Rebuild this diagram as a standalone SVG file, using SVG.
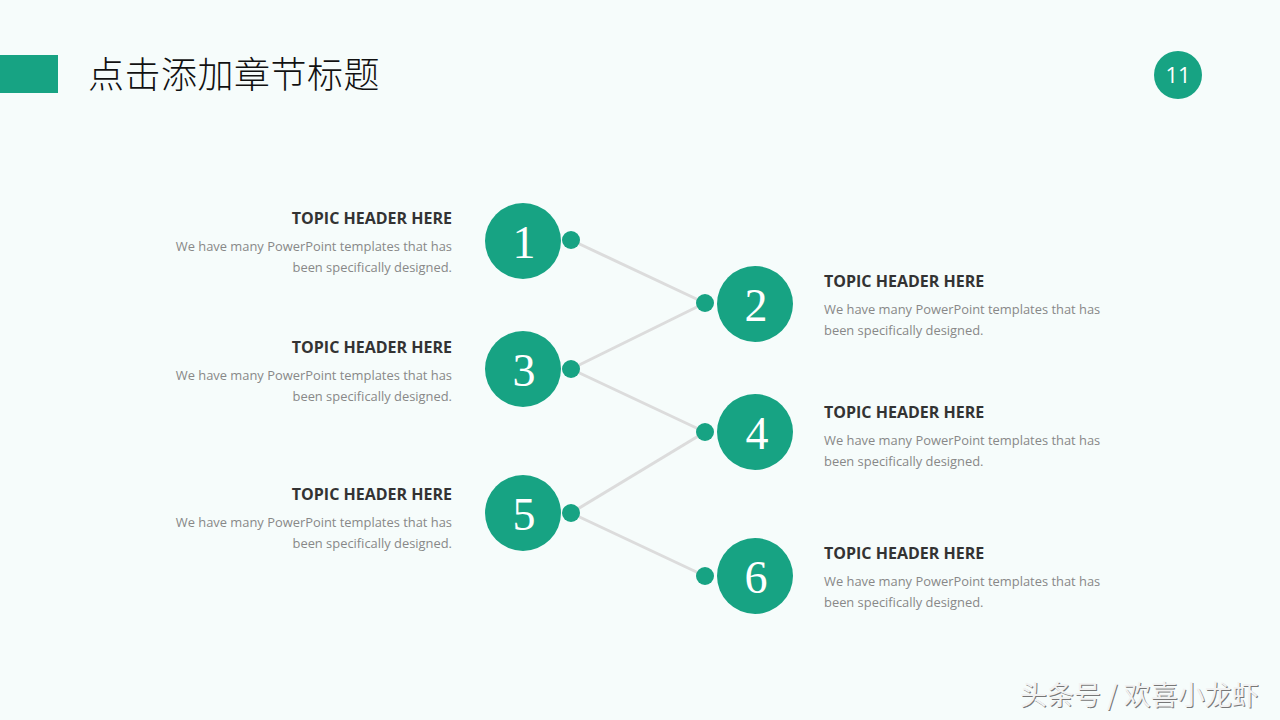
<svg xmlns="http://www.w3.org/2000/svg" width="1280" height="720" viewBox="0 0 1280 720">
<style>
.big{fill:#17a383}
.dot{fill:#17a383}
.num{fill:#fff;font-family:"Liberation Serif","DejaVu Serif",serif;font-size:46px;text-anchor:middle}
.hd{fill:#333;font-family:"Open Sans","Liberation Sans",sans-serif;font-weight:bold;font-size:16px}
.bd{fill:#888;font-family:"Open Sans","Liberation Sans",sans-serif;font-size:12.9px}
.l{text-anchor:end}
.conn line{stroke:#dcdcdc;stroke-width:3}
.wm{font-family:"Noto Sans CJK SC",sans-serif;font-size:27px}
</style>
<rect width="1280" height="720" fill="#f6fcfb"/>
<g id="title">
<rect x="0" y="55" width="58" height="38" fill="#17a383"/>
<text x="88" y="88" font-family="'Noto Sans CJK SC',sans-serif" font-weight="300" font-size="36" letter-spacing="0.5" fill="#111">点击添加章节标题</text>
</g>
<g id="page">
<circle cx="1178" cy="75" r="24" fill="#17a383"/>
<text x="1178" y="83" text-anchor="middle" font-family="'Open Sans','Liberation Sans',sans-serif" font-size="22" fill="#fff">11</text>
</g>
<g id="connectors" class="conn">
<line x1="571" y1="240" x2="705" y2="303"/>
<line x1="705" y1="303" x2="571" y2="369"/>
<line x1="571" y1="369" x2="705" y2="432"/>
<line x1="705" y1="432" x2="571" y2="513"/>
<line x1="571" y1="513" x2="705" y2="576"/>
</g>
<g id="node1">
<circle class="big" cx="523" cy="241" r="38"/>
<circle class="dot" cx="571" cy="240" r="9"/>
<text class="num" x="524" y="258">1</text>
<text class="hd l" x="452" y="224">TOPIC HEADER HERE</text>
<text class="bd l" x="452" y="251">We have many PowerPoint templates that has</text>
<text class="bd l" x="452" y="272">been specifically designed.</text>
</g>
<g id="node2">
<circle class="big" cx="755" cy="304" r="38"/>
<circle class="dot" cx="705" cy="303" r="9"/>
<text class="num" x="756" y="321">2</text>
<text class="hd" x="824" y="287">TOPIC HEADER HERE</text>
<text class="bd" x="824" y="314">We have many PowerPoint templates that has</text>
<text class="bd" x="824" y="335">been specifically designed.</text>
</g>
<g id="node3">
<circle class="big" cx="523" cy="369" r="38"/>
<circle class="dot" cx="571" cy="369" r="9"/>
<text class="num" x="524" y="386">3</text>
<text class="hd l" x="452" y="353">TOPIC HEADER HERE</text>
<text class="bd l" x="452" y="380">We have many PowerPoint templates that has</text>
<text class="bd l" x="452" y="401">been specifically designed.</text>
</g>
<g id="node4">
<circle class="big" cx="755" cy="432" r="38"/>
<circle class="dot" cx="705" cy="432" r="9"/>
<text class="num" x="757" y="449">4</text>
<text class="hd" x="824" y="418">TOPIC HEADER HERE</text>
<text class="bd" x="824" y="445">We have many PowerPoint templates that has</text>
<text class="bd" x="824" y="466">been specifically designed.</text>
</g>
<g id="node5">
<circle class="big" cx="523" cy="513" r="38"/>
<circle class="dot" cx="571" cy="513" r="9"/>
<text class="num" x="524" y="530">5</text>
<text class="hd l" x="452" y="500">TOPIC HEADER HERE</text>
<text class="bd l" x="452" y="527">We have many PowerPoint templates that has</text>
<text class="bd l" x="452" y="548">been specifically designed.</text>
</g>
<g id="node6">
<circle class="big" cx="755" cy="576" r="38"/>
<circle class="dot" cx="705" cy="576" r="9"/>
<text class="num" x="756" y="593">6</text>
<text class="hd" x="824" y="559">TOPIC HEADER HERE</text>
<text class="bd" x="824" y="586">We have many PowerPoint templates that has</text>
<text class="bd" x="824" y="607">been specifically designed.</text>
</g>
<g id="watermark">
<text class="wm" x="1021" y="706" fill="#777">头条号 / 欢喜小龙虾</text>
<text class="wm" x="1020" y="705" fill="#f2f2f2">头条号 / 欢喜小龙虾</text>
</g>
</svg>
